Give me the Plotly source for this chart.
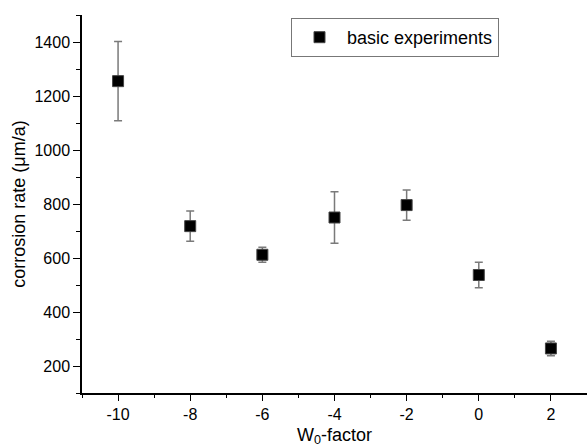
import plotly.graph_objects as go

w0_factor = [-10, -8, -6, -4, -2, 0, 2]
corrosion_rate = [1255, 718, 612, 750, 796, 537, 265]
error = [147, 56, 28, 95, 56, 47, 27]

x_ticks = [-10, -8, -6, -4, -2, 0, 2]
y_ticks = [200, 400, 600, 800, 1000, 1200, 1400]

FONT = "Arial, Liberation Sans, sans-serif"

fig = go.Figure()
fig.add_trace(go.Scatter(
    x=w0_factor, y=corrosion_rate,
    mode="markers",
    name="basic experiments",
    marker=dict(symbol="square", size=11, color="black",
                line=dict(width=1, color="#444")),
    error_y=dict(type="data", array=error, visible=True,
                 color="#7a7a7a", thickness=1.5, width=4),
))

fig.update_layout(
    width=587, height=448,
    margin=dict(l=82, r=0, t=15, b=55),
    paper_bgcolor="white", plot_bgcolor="white",
    font=dict(family=FONT, size=16, color="black"),
    showlegend=True,
    legend=dict(x=(291 - 82) / 505, y=1 - (18 - 15) / 378,
                xanchor="left", yanchor="top",
                bordercolor="#777", borderwidth=1,
                bgcolor="white", itemwidth=45,
                font=dict(size=18, family=FONT),
                tracegroupgap=0),
)

fig.update_xaxes(
    range=[-11, 3],
    tickvals=x_ticks, ticktext=[str(v) for v in x_ticks],
    showline=True, linecolor="black", linewidth=1.5,
    ticks="outside", ticklen=6, tickwidth=1.2, tickcolor="black",
    minor=dict(ticks="outside", ticklen=3, dtick=1, tick0=-11,
               tickcolor="black", tickwidth=1.2),
    showgrid=False, zeroline=False,
    tickfont=dict(size=16),
    title=dict(text="W<sub>0</sub>-factor", font=dict(size=18), standoff=6),
)
fig.update_yaxes(
    range=[100, 1500],
    tickvals=y_ticks, ticktext=[str(v) for v in y_ticks],
    showline=True, linecolor="black", linewidth=1.5,
    ticks="outside", ticklen=7, tickwidth=1.2, tickcolor="black",
    minor=dict(ticks="outside", ticklen=4, dtick=100, tick0=100,
               tickcolor="black", tickwidth=1.2),
    showgrid=False, zeroline=False,
    tickfont=dict(size=16),
    title=dict(text="corrosion rate (μm/a)", font=dict(size=18), standoff=4),
)

fig.write_html("out.html")
